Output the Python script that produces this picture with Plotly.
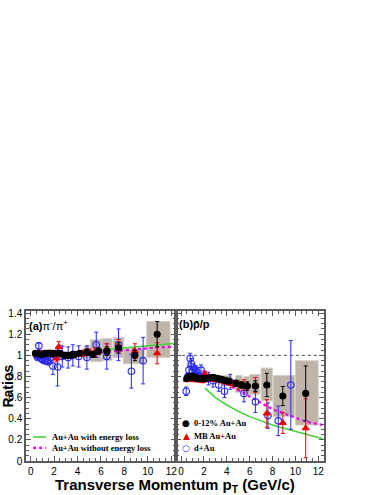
"""π-/π+ 與 p̄/p 比值隨橫動量變化的雙面板圖。"""

import plotly.graph_objects as go

# ==== 面板 (a) π-/π+ ====
a_central_x = [0.4, 0.6, 0.8, 1.0, 1.2, 1.4, 1.6, 1.8, 2.0, 2.2, 2.5, 2.8, 3.0, 3.2, 3.4,
               3.6, 3.8, 4.2, 4.8, 5.3, 5.8, 6.5, 7.5, 8.9, 10.8]
a_central_y = [1.02, 1.02, 1.01, 1.01, 1.02, 1.02, 1.02, 1.02, 1.02, 1.02, 1.02, 1.0, 1.0,
               1.0, 1.0, 1.01, 1.01, 1.02, 1.03, 1.01, 1.04, 1.04, 1.07, 1.0, 1.2]
a_central_err = [0.01, 0.01, 0.01, 0.01, 0.01, 0.01, 0.01, 0.01, 0.01, 0.01, 0.01, 0.01,
                 0.01, 0.01, 0.01, 0.01, 0.01, 0.02, 0.03, 0.03, 0.03, 0.04, 0.05, 0.05, 0.12]

a_mb_x = [0.5, 0.7, 0.9, 1.1, 1.3, 1.5, 1.7, 1.9, 2.2, 2.4, 2.7, 3.0, 3.5, 4.0, 4.5, 5.0,
          5.5, 6.5, 7.5, 8.9, 10.8]
a_mb_y = [1.01, 1.02, 1.02, 1.01, 1.01, 1.02, 1.02, 1.01, 0.97, 1.08, 1.01, 1.0, 1.0, 1.01,
          1.02, 1.03, 1.03, 1.06, 1.09, 1.04, 1.02]
a_mb_err = [0.01, 0.01, 0.01, 0.01, 0.01, 0.01, 0.01, 0.02, 0.03, 0.05, 0.02, 0.02, 0.02,
            0.02, 0.03, 0.03, 0.04, 0.05, 0.06, 0.07, 0.1]

a_dau_x = [0.5, 0.6, 0.7, 0.8, 0.9, 1.0, 1.1, 1.2, 1.3, 1.4, 1.5, 1.7, 1.9, 2.3, 2.7, 3.2,
           3.6, 4.1, 4.8, 5.6, 6.5, 7.5, 8.6, 9.6]
a_dau_y = [1.0, 0.98, 1.09, 0.99, 0.97, 0.96, 1.0, 0.95, 0.97, 0.95, 0.94, 0.98, 0.9, 0.89,
           0.99, 0.98, 1.0, 0.99, 0.98, 1.1, 0.99, 1.1, 0.85, 0.95]
a_dau_err = [0.02, 0.02, 0.03, 0.03, 0.03, 0.03, 0.03, 0.03, 0.03, 0.03, 0.03, 0.05, 0.08,
             0.18, 0.1, 0.1, 0.1, 0.1, 0.11, 0.12, 0.12, 0.15, 0.16, 0.22]

a_sys_x = [4.8, 5.6, 6.5, 7.5, 8.8, 10.9]
a_sys_w = [0.5, 1.0, 0.9, 0.9, 1.8, 2.0]
a_sys_lo = [0.97, 0.94, 0.95, 0.98, 0.92, 0.98]
a_sys_hi = [1.09, 1.15, 1.16, 1.17, 1.06, 1.32]

a_eloss_x = [2, 3, 4, 5, 6, 7, 8, 9, 10, 11, 12.4]
a_eloss_y = [1.0, 1.01, 1.02, 1.035, 1.05, 1.06, 1.07, 1.08, 1.09, 1.10, 1.115]
a_noloss_x = [2, 3, 4, 5, 6, 7, 8, 9, 10, 11, 12.4]
a_noloss_y = [1.0, 1.005, 1.01, 1.02, 1.03, 1.04, 1.05, 1.06, 1.07, 1.075, 1.085]

# ==== 面板 (b) p̄/p ====
b_central_x = [0.5, 0.6, 0.7, 0.8, 0.9, 1.0, 1.1, 1.2, 1.3, 1.4, 1.5, 1.6, 1.8, 2.0, 2.2,
               2.5, 2.8, 3.0, 3.2, 3.4, 3.6, 3.8, 4.0, 4.2, 4.8, 5.3, 5.8, 6.5, 7.5, 8.9, 10.9]
b_central_y = [0.78, 0.79, 0.8, 0.8, 0.8, 0.79, 0.8, 0.79, 0.79, 0.78, 0.78, 0.78, 0.78,
               0.78, 0.78, 0.79, 0.79, 0.785, 0.78, 0.775, 0.77, 0.765, 0.76, 0.755, 0.735,
               0.72, 0.71, 0.71, 0.72, 0.615, 0.64]
b_central_err = [0.02, 0.02, 0.02, 0.02, 0.02, 0.02, 0.02, 0.02, 0.02, 0.02, 0.02, 0.02,
                 0.02, 0.02, 0.02, 0.02, 0.02, 0.02, 0.02, 0.02, 0.02, 0.02, 0.02, 0.02,
                 0.03, 0.03, 0.04, 0.05, 0.11, 0.09, 0.26]

b_mb_x = [0.5, 0.7, 0.9, 1.1, 1.3, 1.5, 1.7, 1.9, 2.1, 2.3, 2.6, 2.9, 3.2, 3.5, 3.8, 4.1,
          4.5, 5.0, 5.5, 6.5, 7.5, 8.9, 10.9]
b_mb_y = [0.77, 0.78, 0.78, 0.77, 0.77, 0.77, 0.77, 0.76, 0.82, 0.79, 0.78, 0.77, 0.77,
          0.76, 0.75, 0.74, 0.73, 0.72, 0.72, 0.72, 0.45, 0.36, 0.31]
b_mb_err = [0.02, 0.02, 0.02, 0.02, 0.02, 0.02, 0.02, 0.02, 0.03, 0.02, 0.02, 0.02, 0.02,
            0.02, 0.02, 0.02, 0.03, 0.04, 0.05, 0.07, 0.13, 0.1, 0.28]

b_dau_x = [0.45, 0.6, 0.7, 0.8, 0.9, 1.0, 1.1, 1.2, 1.3, 1.4, 1.5, 1.75, 2.0, 2.4, 2.8,
           3.3, 3.8, 4.3, 5.5, 6.5, 7.6, 8.5, 9.6]
b_dau_y = [0.66, 0.8, 0.86, 0.97, 0.92, 0.85, 0.88, 0.82, 0.86, 0.84, 0.8, 0.86, 0.8, 0.78,
           0.76, 0.72, 0.66, 0.75, 0.64, 0.56, 0.43, 0.38, 0.72]
b_dau_err = [0.04, 0.03, 0.04, 0.05, 0.05, 0.04, 0.04, 0.04, 0.04, 0.04, 0.04, 0.05, 0.05,
             0.06, 0.06, 0.06, 0.06, 0.07, 0.08, 0.1, 0.12, 0.14, 0.42]

b_sys_x = [3.6, 5.05, 5.8, 6.45, 7.5, 9.0, 11.0]
b_sys_w = [1.6, 0.6, 0.6, 0.9, 1.0, 1.9, 2.0]
b_sys_lo = [0.75, 0.65, 0.63, 0.63, 0.57, 0.42, 0.34]
b_sys_hi = [0.81, 0.81, 0.8, 0.82, 0.88, 0.81, 0.95]

b_eloss_x = [2.1, 3, 4, 5, 6, 7, 8, 9, 10, 11, 12.4]
b_eloss_y = [0.69, 0.6, 0.53, 0.47, 0.42, 0.38, 0.34, 0.31, 0.28, 0.25, 0.21]
b_noloss_x = [2, 3, 4, 5, 6, 7, 8, 9, 10, 11, 12.4]
b_noloss_y = [0.8, 0.77, 0.73, 0.67, 0.61, 0.55, 0.49, 0.45, 0.41, 0.37, 0.34]

# ==== 刻度 ====
x_tick_vals = [0, 2, 4, 6, 8, 10, 12]
y_tick_vals = [0, 0.2, 0.4, 0.6, 0.8, 1.0, 1.2, 1.4]
y_tick_text = ["0", "0.2", "0.4", "0.6", "0.8", "1", "1.2", "1.4"]

# 圖例文字
curve_labels = ["Au+Au with energy loss", "Au+Au without energy loss"]
point_labels = ["0-12% Au+Au", "MB Au+Au", "d+Au"]

# 樣式
_BLACK = "black"
_RED = "rgb(235,0,0)"
_BLUE = "rgb(40,40,235)"
_GREEN = "rgb(70,210,60)"
_MAGENTA = "rgb(240,0,240)"
_SYS = "rgb(190,180,170)"
_FRAME = "rgb(90,90,90)"
_SANS = "Arial, Liberation Sans, sans-serif"
_SERIF = "Liberation Serif, Times New Roman, serif"


def _points(x, y, err, *, color, symbol, size, xaxis, yaxis):
    return go.Scatter(
        x=x, y=y, mode="markers", xaxis=xaxis, yaxis=yaxis, showlegend=False,
        marker=dict(color=color, symbol=symbol, size=size,
                    line=dict(color=color, width=1.1)),
        error_y=dict(type="data", array=err, color=color, thickness=1, width=2),
    )


def _sys(x, w, lo, hi, *, xaxis, yaxis):
    return go.Bar(
        x=x, y=[h - l for h, l in zip(hi, lo)], base=lo, width=w,
        xaxis=xaxis, yaxis=yaxis, showlegend=False, hoverinfo="skip",
        marker=dict(color=_SYS, line=dict(color="rgb(215,208,200)", width=1)),
    )


def _curve(x, y, *, color, dash, xaxis, yaxis):
    return go.Scatter(
        x=x, y=y, mode="lines", xaxis=xaxis, yaxis=yaxis, showlegend=False,
        line=dict(color=color, width=1.6 if dash == "solid" else 2.2, dash=dash),
    )


fig = go.Figure()

# 系統誤差灰框
fig.add_trace(_sys(a_sys_x, a_sys_w, a_sys_lo, a_sys_hi, xaxis="x", yaxis="y"))
fig.add_trace(_sys(b_sys_x, b_sys_w, b_sys_lo, b_sys_hi, xaxis="x2", yaxis="y2"))

# 理論曲線
fig.add_trace(_curve(a_eloss_x, a_eloss_y, color=_GREEN, dash="solid", xaxis="x", yaxis="y"))
fig.add_trace(_curve(a_noloss_x, a_noloss_y, color=_MAGENTA, dash="dot", xaxis="x", yaxis="y"))
fig.add_trace(_curve(b_eloss_x, b_eloss_y, color=_GREEN, dash="solid", xaxis="x2", yaxis="y2"))
fig.add_trace(_curve(b_noloss_x, b_noloss_y, color=_MAGENTA, dash="dot", xaxis="x2",
                     yaxis="y2"))

# 資料點
for axis_x, axis_y, dau, mb, central in [
    ("x", "y", (a_dau_x, a_dau_y, a_dau_err), (a_mb_x, a_mb_y, a_mb_err),
     (a_central_x, a_central_y, a_central_err)),
    ("x2", "y2", (b_dau_x, b_dau_y, b_dau_err), (b_mb_x, b_mb_y, b_mb_err),
     (b_central_x, b_central_y, b_central_err)),
]:
    fig.add_trace(_points(*dau, color=_BLUE, symbol="circle-open", size=6.5,
                          xaxis=axis_x, yaxis=axis_y))
    fig.add_trace(_points(*mb, color=_RED, symbol="triangle-up", size=6,
                          xaxis=axis_x, yaxis=axis_y))
    fig.add_trace(_points(*central, color=_BLACK, symbol="circle", size=6,
                          xaxis=axis_x, yaxis=axis_y))

# y = 1 參考虛線
for xref, yref in (("x domain", "y"), ("x2 domain", "y2")):
    fig.add_shape(type="line", xref=xref, yref=yref, x0=0, x1=1, y0=1, y1=1,
                  line=dict(color="rgb(80,80,80)", width=1, dash="dot"), layer="below")

_tick_font = dict(family=_SANS, size=10, color="black")
_axis_common = dict(
    showline=True, linecolor=_FRAME, linewidth=1.5, mirror="allticks",
    ticks="inside", ticklen=5, tickcolor=_FRAME, showgrid=False, zeroline=False,
    tickfont=_tick_font, automargin=False,
)
_x_minor = dict(ticks="inside", ticklen=3, dtick=0.5, tickcolor=_FRAME)
_y_minor = dict(ticks="inside", ticklen=3, dtick=0.05, tickcolor=_FRAME)

fig.update_layout(
    width=383, height=495,
    margin=dict(l=26, r=59, t=311, b=34, autoexpand=False),
    paper_bgcolor="white", plot_bgcolor="white",
    barmode="overlay", showlegend=False,
    font=dict(family=_SANS, color="black"),
    xaxis=dict(domain=[0, 0.503], range=[-0.4, 12.4], tickvals=x_tick_vals,
               minor=_x_minor, **_axis_common),
    xaxis2=dict(domain=[0.503, 1], range=[-0.45, 12.5], tickvals=x_tick_vals,
                minor=_x_minor, anchor="y2", **_axis_common),
    yaxis=dict(range=[0, 1.42], tickvals=y_tick_vals, ticktext=y_tick_text,
               minor=_y_minor, **_axis_common),
    yaxis2=dict(range=[0, 1.42], tickvals=y_tick_vals, showticklabels=False,
                minor=_y_minor, anchor="x2", matches="y", **_axis_common),
)

# 圖例（面板 a：理論曲線）
for label, color, dash, y in zip(curve_labels, (_GREEN, _MAGENTA), ("solid", "dot"),
                                 (0.16, 0.087)):
    fig.add_shape(type="line", xref="paper", yref="paper", x0=0.024, x1=0.067, y0=y, y1=y,
                  line=dict(color=color, width=1.6 if dash == "solid" else 2.2, dash=dash))
    fig.add_annotation(xref="paper", yref="paper", x=0.082, y=y, xanchor="left",
                       yanchor="middle", showarrow=False,
                       font=dict(family=_SERIF, size=8.5, color="black"),
                       text=f"<b>{label}</b>")

# 圖例（面板 b：資料點）
for label, glyph, color, y in zip(point_labels, ("●", "▲", "○"), (_BLACK, _RED, _BLUE),
                                  (0.253, 0.167, 0.087)):
    fig.add_annotation(xref="paper", yref="paper", x=0.537, y=y, xanchor="center",
                       yanchor="middle", showarrow=False,
                       font=dict(family="DejaVu Sans", size=9, color=color), text=glyph)
    fig.add_annotation(xref="paper", yref="paper", x=0.556, y=y, xanchor="left",
                       yanchor="middle", showarrow=False,
                       font=dict(family=_SERIF, size=8.5, color="black"),
                       text=f"<b>{label}</b>")

fig.add_annotation(xref="x domain", yref="y domain", x=0.01, y=0.97, xanchor="left",
                   yanchor="top", showarrow=False, font=dict(family=_SANS, size=11),
                   text="<b>(a)</b>π<sup>-</sup>/π<sup>+</sup>")
fig.add_annotation(xref="x2 domain", yref="y2 domain", x=0.01, y=0.97, xanchor="left",
                   yanchor="top", showarrow=False, font=dict(family=_SANS, size=11),
                   text="<b>(b)p\u0304/p</b>")
fig.add_annotation(xref="paper", yref="paper", x=-0.062, y=0.5, xanchor="center",
                   yanchor="middle", textangle=-90, showarrow=False,
                   font=dict(family=_SANS, size=14), text="<b>Ratios</b>")
fig.add_annotation(xref="paper", yref="paper", x=0.5, y=-0.16, xanchor="center",
                   yanchor="middle", showarrow=False, font=dict(family=_SANS, size=15),
                   text="<b>Transverse Momentum p<sub>T</sub> (GeV/c)</b>")

# 去掉頁面 body 的預設外距，讓圖從視窗左上角開始
fig.write_html("out.html", config={"displayModeBar": False},
               post_script="document.body.style.margin = '0px';")
